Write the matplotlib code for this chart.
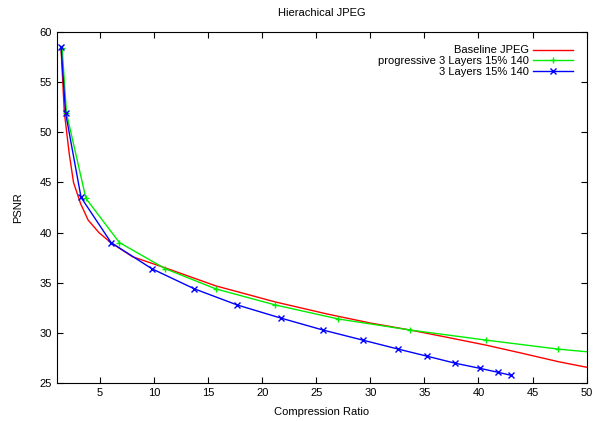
import matplotlib
matplotlib.use('Agg')
import matplotlib.pyplot as plt

plt.rcParams['font.family'] = ['Liberation Sans', 'DejaVu Sans']

# Baseline JPEG (smooth curve)
base_x = [1.4, 1.7, 2.15, 2.55, 3.2, 3.9, 4.9, 6.0, 8.0, 11.0, 15.7, 21.2, 26.0, 30.0, 33.7, 37.0, 40.7, 44.0, 47.4, 50.0]
base_y = [58.3, 52.0, 47.9, 45.0, 42.9, 41.25, 40.0, 39.0, 37.6, 36.5, 34.7, 33.1, 31.9, 31.0, 30.3, 29.6, 28.8, 28.0, 27.15, 26.6]

# progressive 3 Layers 15% 140
prog_x = [1.5, 1.9, 3.7, 6.8, 11.05, 15.7, 21.2, 27.05, 33.7, 40.7, 47.4, 54.0]
prog_y = [58.4, 51.9, 43.4, 39.0, 36.4, 34.4, 32.8, 31.4, 30.3, 29.3, 28.4, 27.75]

# 3 Layers 15% 140
lay_x = [1.4, 1.82, 3.25, 6.03, 9.8, 13.73, 17.68, 21.7, 25.63, 29.3, 32.6, 35.25, 37.85, 40.1, 41.8, 43.0]
lay_y = [58.5, 51.9, 43.5, 39.0, 36.4, 34.4, 32.8, 31.5, 30.3, 29.3, 28.4, 27.7, 27.0, 26.5, 26.1, 25.8]

fig = plt.figure(figsize=(5.94, 4.21), dpi=100)
ax = fig.add_axes([0.0955, 0.0895, 0.892, 0.8355])

ax.plot(base_x, base_y, color='#ff0000', lw=1.0, label='Baseline JPEG')
ax.plot(prog_x, prog_y, color='#00ee00', lw=1.0, marker='+', ms=5, mew=1.0,
        label='progressive 3 Layers 15% 140')
ax.plot(lay_x, lay_y, color='#0000ff', lw=1.0, marker='x', ms=4, mew=1.0,
        label='3 Layers 15% 140')

ax.set_xlim(1, 50)
ax.set_ylim(25, 60)
ax.set_xticks(range(5, 51, 5))
ax.set_yticks(range(25, 61, 5))
ax.tick_params(direction='in', length=4, labelsize=8, top=True, right=True)

ax.set_title('Hierachical JPEG', fontsize=8, pad=11)
ax.set_xlabel('Compression Ratio', fontsize=8, labelpad=6)
ax.set_ylabel('PSNR', fontsize=8, labelpad=12)

ax.legend(loc='upper right', frameon=False, fontsize=8, markerfirst=False,
          handlelength=3.6, labelspacing=0.05, borderaxespad=0.85, handletextpad=0.3)

fig.savefig('out.png', dpi=100)
